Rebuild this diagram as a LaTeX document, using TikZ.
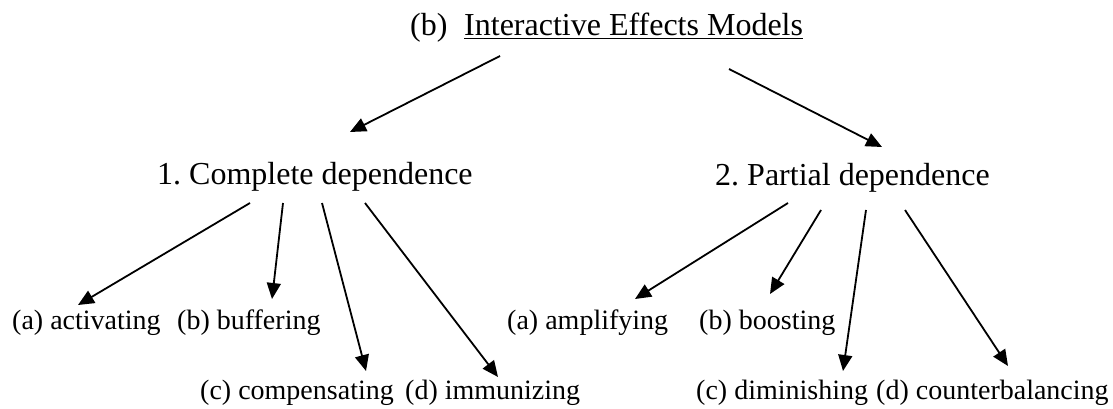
\documentclass[tikz,border=0pt]{standalone}
\usepackage{fontspec}
\setmainfont{Liberation Serif}
\usetikzlibrary{arrows.meta}
\frenchspacing
\begin{document}
\begin{tikzpicture}[x=1pt,y=-1pt,
  lbl/.style={anchor=base west,inner sep=0pt,font=\fontsize{28}{32}\selectfont},
  big/.style={lbl,font=\fontsize{32}{36}\selectfont},
  arr/.style={line width=1.8pt,-{Triangle[length=16pt,width=14pt]}}]
\useasboundingbox (0,0) rectangle (1113,409);
% title
\node[big] (tag) at (410,36) {(b)};
\node[big] (top) at (464,36) {\underline{Interactive Effects Models}};
% second level
\node[big] (cd) at (157,184) {1. Complete dependence};
\node[big] (pd) at (715,185) {2. Partial dependence};
% leaves of complete dependence
\node[lbl] (act) at (12,329) {(a) activating};
\node[lbl] (buf) at (177,329) {(b) buffering};
\node[lbl] (com) at (200,399) {(c) compensating};
\node[lbl] (imm) at (405,399) {(d) immunizing};
% leaves of partial dependence
\node[lbl] (amp) at (507,329) {(a) amplifying};
\node[lbl] (boo) at (699,329) {(b) boosting};
\node[lbl] (dim) at (696,399) {(c) diminishing};
\node[lbl] (cou) at (876,399) {(d) counterbalancing};
% arrow end points
\coordinate (t1) at (500,56);  \coordinate (h1) at (350,132);
\coordinate (t2) at (729,69);  \coordinate (h2) at (882,147);
\coordinate (c1) at (250,203); \coordinate (a1) at (78,305);
\coordinate (c2) at (283,203); \coordinate (a2) at (272,299);
\coordinate (c3) at (322,203); \coordinate (a3) at (366,371);
\coordinate (c4) at (365,203); \coordinate (a4) at (498,377);
\coordinate (p1) at (788,203); \coordinate (b1) at (635,299);
\coordinate (p2) at (821,210); \coordinate (b2) at (770,294);
\coordinate (p3) at (866,210); \coordinate (b3) at (843,371);
\coordinate (p4) at (905,210); \coordinate (b4) at (1008,366);
\draw[arr] (t1) -- (h1);
\draw[arr] (t2) -- (h2);
\draw[arr] (c1) -- (a1);
\draw[arr] (c2) -- (a2);
\draw[arr] (c3) -- (a3);
\draw[arr] (c4) -- (a4);
\draw[arr] (p1) -- (b1);
\draw[arr] (p2) -- (b2);
\draw[arr] (p3) -- (b3);
\draw[arr] (p4) -- (b4);
\end{tikzpicture}
\end{document}
